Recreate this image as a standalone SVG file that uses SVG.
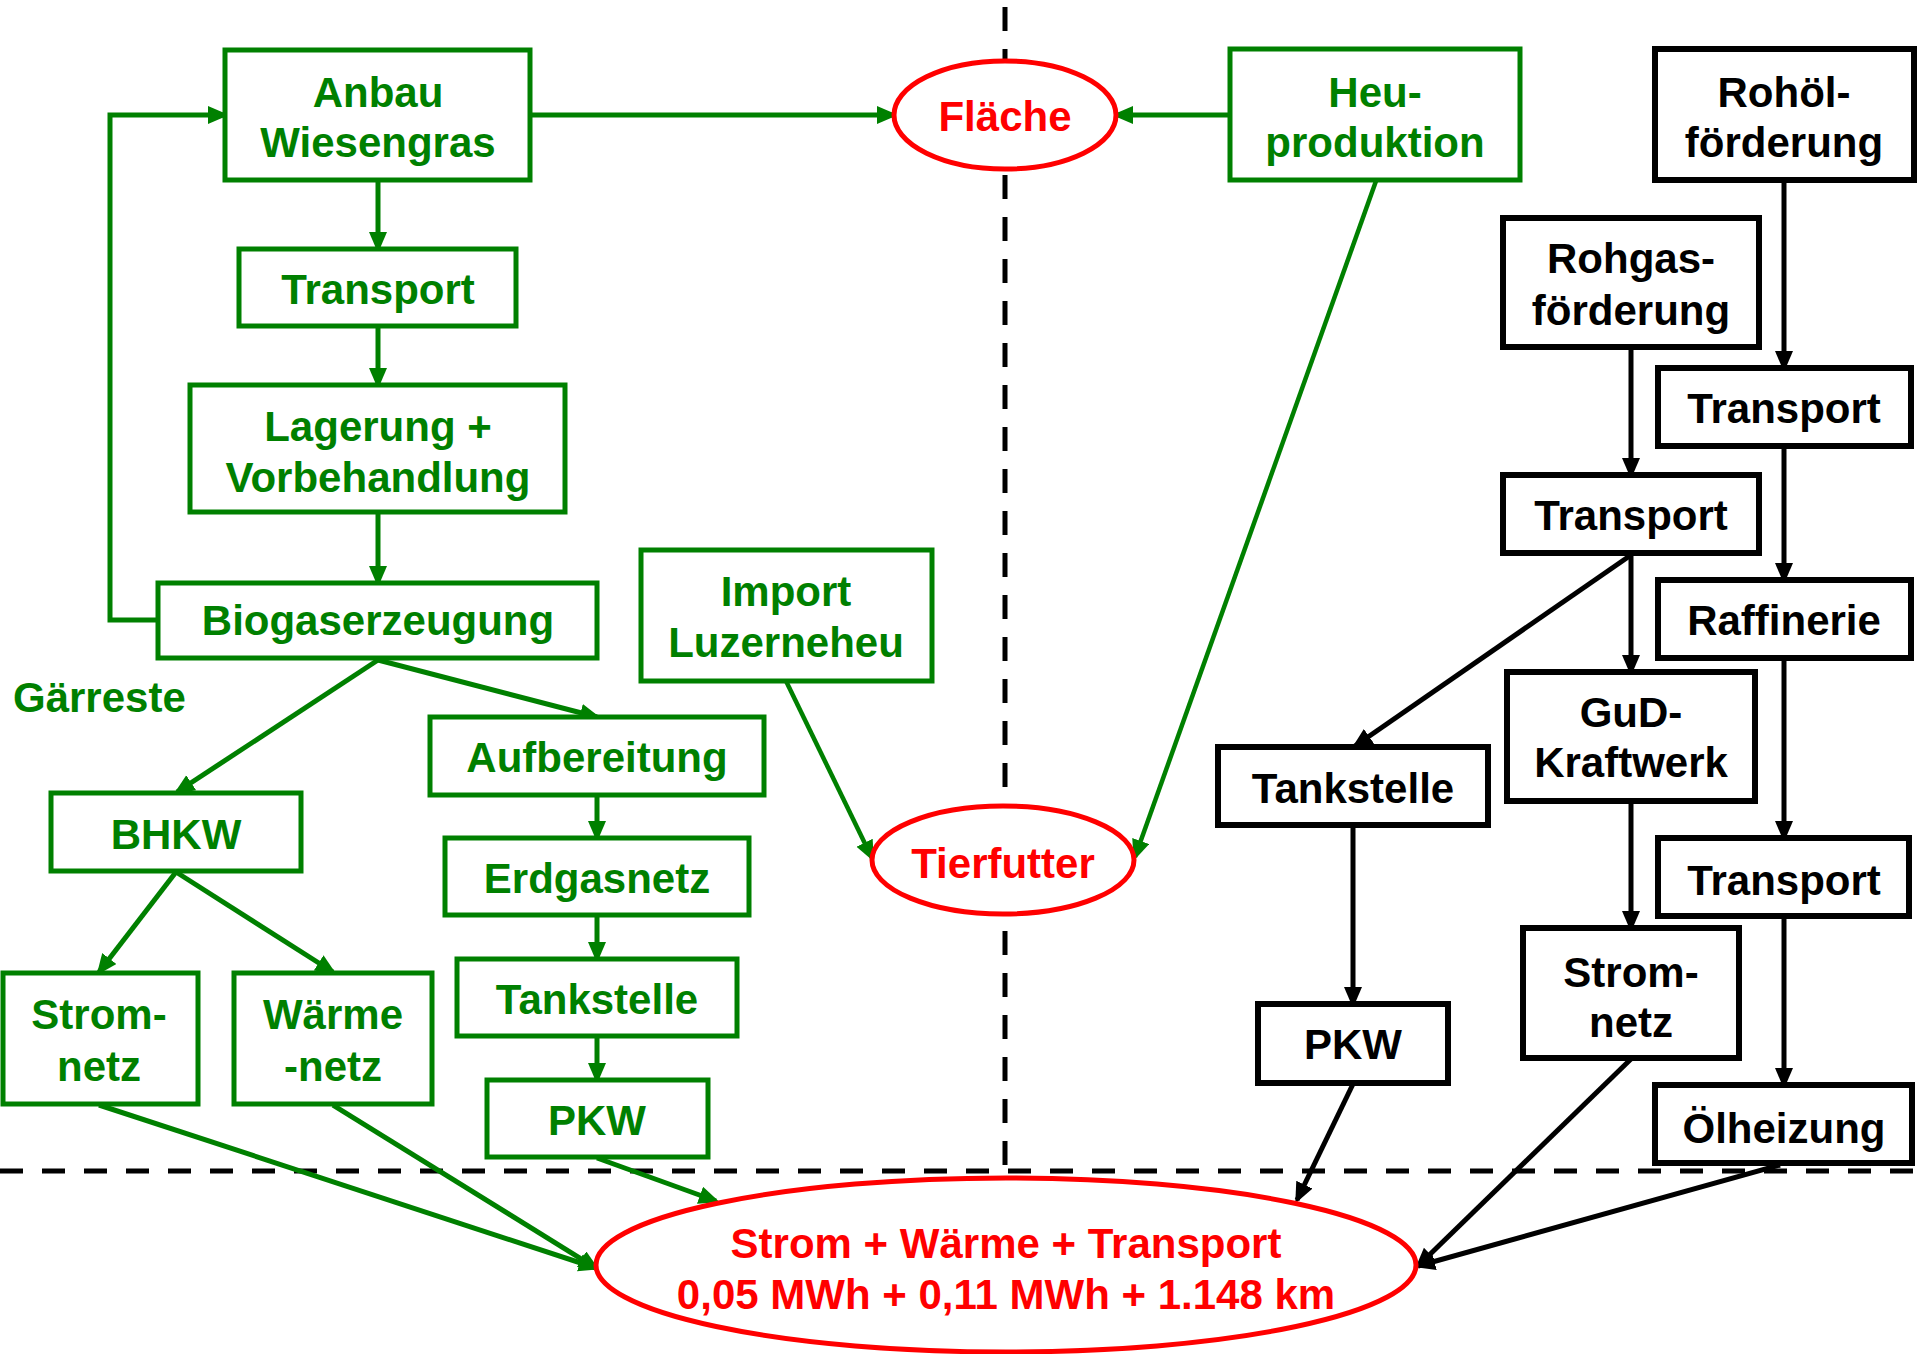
<svg xmlns="http://www.w3.org/2000/svg" width="1920" height="1354" viewBox="0 0 1920 1354">
<style>
text{font-family:"Liberation Sans",Arial,sans-serif;font-weight:bold;font-size:42px;text-anchor:middle}
.g rect{fill:#fff;stroke:#008000;stroke-width:5}
.g text{fill:#008000}
.b rect{fill:#fff;stroke:#000;stroke-width:6}
.b text{fill:#000}
.r ellipse{fill:#fff;stroke:#f00;stroke-width:5}
.r text{fill:#f00}
.cg{stroke:#008000;stroke-width:5;fill:none;marker-end:url(#ag)}
.cgt{stroke:#008000;stroke-width:4.5;fill:none;marker-end:url(#ag)}
.cb{stroke:#000;stroke-width:5;fill:none;marker-end:url(#ab)}
.dash{stroke:#000;stroke-width:5;fill:none}
</style>
<defs>
<marker id="ag" markerUnits="userSpaceOnUse" markerWidth="22" markerHeight="20" refX="17" refY="9" orient="auto"><path d="M0,0 L21,9 L0,18 z" fill="#008000"/></marker>
<marker id="ab" markerUnits="userSpaceOnUse" markerWidth="22" markerHeight="20" refX="17" refY="9" orient="auto"><path d="M0,0 L21,9 L0,18 z" fill="#000"/></marker>
</defs>
<rect width="1920" height="1354" fill="#fff"/>
<g id="dividers">
<line class="dash" x1="1005" y1="7" x2="1005" y2="1168" stroke-dasharray="24 18"/>
<line class="dash" x1="0" y1="1171" x2="1920" y2="1171" stroke-dasharray="23 19"/>
</g>
<g id="connectors">
<polyline class="cg" points="158,620 110,620 110,115 225,115"/>
<line class="cg" x1="530" y1="115" x2="894" y2="115"/>
<line class="cg" x1="1230" y1="115" x2="1116" y2="115"/>
<line class="cg" x1="378" y1="180" x2="378" y2="249"/>
<line class="cg" x1="378" y1="326" x2="378" y2="385"/>
<line class="cg" x1="378" y1="512" x2="378" y2="583"/>
<line class="cg" x1="378" y1="660" x2="177" y2="792"/>
<line class="cg" x1="378" y1="660" x2="597" y2="717"/>
<line class="cg" x1="176" y1="872" x2="99" y2="972"/>
<line class="cg" x1="176" y1="872" x2="333" y2="972"/>
<line class="cg" x1="597" y1="795" x2="597" y2="838"/>
<line class="cg" x1="597" y1="915" x2="597" y2="959"/>
<line class="cg" x1="597" y1="1036" x2="597" y2="1080"/>
<line class="cg" x1="99" y1="1105" x2="596" y2="1268"/>
<line class="cg" x1="333" y1="1105" x2="596" y2="1268"/>
<line class="cg" x1="597" y1="1158" x2="716" y2="1201"/>
<line class="cgt" x1="786" y1="681" x2="872" y2="858"/>
<line class="cgt" x1="1376" y1="181" x2="1135" y2="857"/>
<line class="cb" x1="1784" y1="180" x2="1784" y2="368"/>
<line class="cb" x1="1784" y1="446" x2="1784" y2="580"/>
<line class="cb" x1="1784" y1="658" x2="1784" y2="838"/>
<line class="cb" x1="1784" y1="916" x2="1784" y2="1085"/>
<line class="cb" x1="1631" y1="347" x2="1631" y2="475"/>
<line class="cb" x1="1631" y1="553" x2="1631" y2="672"/>
<line class="cb" x1="1631" y1="555" x2="1355" y2="746"/>
<line class="cb" x1="1631" y1="801" x2="1631" y2="928"/>
<line class="cb" x1="1353" y1="825" x2="1353" y2="1004"/>
<line class="cb" x1="1353" y1="1084" x2="1297" y2="1200"/>
<line class="cb" x1="1631" y1="1059" x2="1418" y2="1266"/>
<line class="cb" x1="1780" y1="1165" x2="1418" y2="1266"/>
</g>
<g id="n-anbau" class="g"><rect x="225" y="50" width="305" height="130"/><text x="378" y="107">Anbau</text><text x="378" y="157">Wiesengras</text></g>
<g id="n-transport-g" class="g"><rect x="239" y="249" width="277" height="77"/><text x="378" y="304">Transport</text></g>
<g id="n-lagerung" class="g"><rect x="190" y="385" width="375" height="127"/><text x="378" y="441">Lagerung +</text><text x="378" y="492">Vorbehandlung</text></g>
<g id="n-biogas" class="g"><rect x="158" y="583" width="439" height="75"/><text x="378" y="635">Biogaserzeugung</text></g>
<g id="n-gaerreste" class="g"><text x="13" y="712" style="text-anchor:start">Gärreste</text></g>
<g id="n-bhkw" class="g"><rect x="51" y="793" width="250" height="78"/><text x="176" y="849">BHKW</text></g>
<g id="n-strom-g" class="g"><rect x="3" y="973" width="195" height="131"/><text x="99" y="1029">Strom-</text><text x="99" y="1081">netz</text></g>
<g id="n-waerme" class="g"><rect x="234" y="973" width="198" height="131"/><text x="333" y="1029">Wärme</text><text x="333" y="1081">-netz</text></g>
<g id="n-aufb" class="g"><rect x="430" y="717" width="334" height="78"/><text x="597" y="772">Aufbereitung</text></g>
<g id="n-erdgas" class="g"><rect x="445" y="838" width="304" height="77"/><text x="597" y="893">Erdgasnetz</text></g>
<g id="n-tank-g" class="g"><rect x="457" y="959" width="280" height="77"/><text x="597" y="1014">Tankstelle</text></g>
<g id="n-pkw-g" class="g"><rect x="487" y="1080" width="221" height="77"/><text x="597" y="1135">PKW</text></g>
<g id="n-import" class="g"><rect x="641" y="550" width="291" height="131"/><text x="786" y="606">Import</text><text x="786" y="657">Luzerneheu</text></g>
<g id="n-heu" class="g"><rect x="1230" y="49" width="290" height="131"/><text x="1375" y="107">Heu-</text><text x="1375" y="157">produktion</text></g>
<g id="n-flaeche" class="r"><ellipse cx="1005" cy="115" rx="111" ry="54"/><text x="1005" y="131">Fläche</text></g>
<g id="n-tierfutter" class="r"><ellipse cx="1003" cy="860" rx="131" ry="54"/><text x="1003" y="878">Tierfutter</text></g>
<g id="n-result" class="r"><ellipse cx="1006" cy="1265" rx="410" ry="87"/><text x="1006" y="1258">Strom + Wärme + Transport</text><text x="1006" y="1309">0,05 MWh + 0,11 MWh + 1.148 km</text></g>
<g id="n-rohoel" class="b"><rect x="1655" y="49" width="259" height="131"/><text x="1784" y="107">Rohöl-</text><text x="1784" y="157">förderung</text></g>
<g id="n-rohgas" class="b"><rect x="1503" y="218" width="256" height="129"/><text x="1631" y="273">Rohgas-</text><text x="1631" y="325">förderung</text></g>
<g id="n-transport-oil1" class="b"><rect x="1658" y="368" width="253" height="78"/><text x="1784" y="423">Transport</text></g>
<g id="n-transport-gas" class="b"><rect x="1503" y="475" width="256" height="78"/><text x="1631" y="530">Transport</text></g>
<g id="n-raffinerie" class="b"><rect x="1658" y="580" width="253" height="78"/><text x="1784" y="635">Raffinerie</text></g>
<g id="n-gud" class="b"><rect x="1507" y="672" width="248" height="129"/><text x="1631" y="727">GuD-</text><text x="1631" y="777">Kraftwerk</text></g>
<g id="n-tank-b" class="b"><rect x="1218" y="747" width="270" height="78"/><text x="1353" y="803">Tankstelle</text></g>
<g id="n-pkw-b" class="b"><rect x="1258" y="1004" width="190" height="79"/><text x="1353" y="1059">PKW</text></g>
<g id="n-strom-b" class="b"><rect x="1523" y="928" width="216" height="130"/><text x="1631" y="987">Strom-</text><text x="1631" y="1037">netz</text></g>
<g id="n-transport-oil2" class="b"><rect x="1658" y="838" width="251" height="78"/><text x="1784" y="895">Transport</text></g>
<g id="n-oelheizung" class="b"><rect x="1655" y="1085" width="257" height="78"/><text x="1784" y="1143">Ölheizung</text></g>
</svg>
